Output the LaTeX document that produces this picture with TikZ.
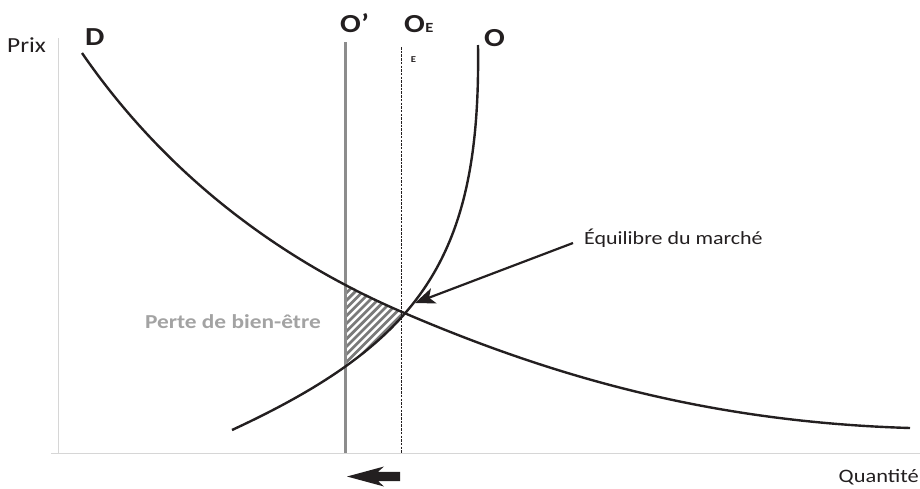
\documentclass[tikz,border=0pt]{standalone}
\usepackage{fontspec}
\setmainfont[FakeStretch=1.18]{Carlito}
\usetikzlibrary{arrows.meta}
\definecolor{ink}{HTML}{231F20}
\definecolor{axisgray}{HTML}{D6D6D6}
\definecolor{oprime}{HTML}{8C8C8C}
\definecolor{hatchgray}{HTML}{7A7A7A}
\definecolor{lossgray}{HTML}{A3A3A3}
\tikzset{
  axisline/.style={draw=axisgray, line width=1.5},
  curveline/.style={draw=ink, line width=2.4},
  lbl/.style={font=\fontsize{19}{22}\selectfont, text=ink, inner sep=0},
  biglbl/.style={font=\bfseries\fontsize{26}{30}\selectfont, text=ink, inner sep=0},
  losslbl/.style={font=\bfseries\fontsize{19.8}{22}\selectfont, text=lossgray, inner sep=0},
}
\begin{document}
\begin{tikzpicture}[x=1pt,y=-1pt]
\useasboundingbox (0,0) rectangle (920,488);
% axes
\draw[axisline] (58.5,38) -- (58.5,453.5);
\draw[axisline] (51,453.5) -- (920,453.5);
% hatched welfare loss
\begin{scope}
  \clip (345,250) rectangle (402,400);
  \clip (82,53) .. controls (182,198) and (312,273.3) .. (402,312) .. controls (552,376.5) and (710,422) .. (910,428) -- (910,488) -- (82,488) -- cycle;
  \clip (232,430) .. controls (422,342) and (481,256) .. (478,45) -- (478,0) -- (0,0) -- (0,430) -- cycle;
  \fill[hatchgray] (330,240) rectangle (420,410);
  \foreach \k in {-30,...,30} {
    \draw[white, line width=2.4] ({300+7.7*\k},420) -- ({300+7.7*\k+200},220);
  }
\end{scope}
% O' line
\draw[draw=oprime, line width=3.6] (345.5,42) -- (345.5,453);
% dashed OE line
\draw[ink, line width=0.9, dash pattern=on 2.5 off 1.2] (401,47) -- (401,453);
% demand D
\draw[curveline] (82,53) .. controls (182,198) and (312,273.3) .. (402,312) .. controls (552,376.5) and (710,422) .. (910,428);
% supply O
\draw[curveline] (232,430) .. controls (422,342) and (481,256) .. (478,45);
% labels
\node[lbl, font=\fontsize{21.5}{24}\selectfont, anchor=base west] (prix) at (7,52) {Prix};
\node[lbl, anchor=base east] (qte) at (919,482) {Quantité};
\node[biglbl, anchor=base west] (dlab) at (85,45) {D};
\node[biglbl, anchor=base west] (oplab) at (340,32) {O’};
\node[biglbl, anchor=base west] (oelab) at (404,32) {O\kern0.5pt{\fontsize{14}{16}\selectfont E}};
\node[font=\bfseries\fontsize{9}{10}\selectfont, text=ink, inner sep=0] (esmall) at (413.5,60) {E};
\node[biglbl, anchor=base west] (olab) at (484,46) {O};
\node[losslbl, anchor=base east] (loss) at (321,328) {Perte de bien-être};
\node[lbl, font=\fontsize{18.6}{22}\selectfont, anchor=base west] (eq) at (584,244) {Équilibre du marché};
% equilibrium arrow
\coordinate (eqtail) at (573,243);
\coordinate (eqpt) at (415,303);
\draw[ink, line width=2.2, -{Stealth[length=20pt, width=16pt, inset=5pt]}] (eqtail) -- (eqpt);
% shift arrow
\fill[ink] (347,476.5) -- (384,466.5) -- (378,471.8) -- (400,471.8) -- (400,481) -- (378,481) -- (384,486.5) -- cycle;
\end{tikzpicture}
\end{document}
